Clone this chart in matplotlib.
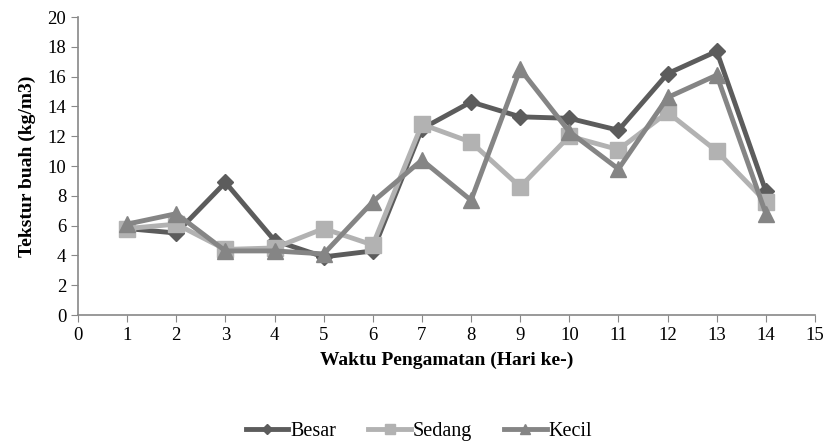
import matplotlib
matplotlib.use('Agg')
import matplotlib.pyplot as plt
import numpy as np

plt.rcParams['font.family'] = ['Liberation Serif', 'DejaVu Serif']

hari = [1, 2, 3, 4, 5, 6, 7, 8, 9, 10, 11, 12, 13, 14]
besar = [5.8, 5.5, 8.9, 5.0, 3.9, 4.3, 12.5, 14.3, 13.3, 13.2, 12.4, 16.2, 17.7, 8.3]
sedang = [5.8, 6.1, 4.4, 4.5, 5.8, 4.7, 12.8, 11.6, 8.6, 12.0, 11.1, 13.6, 11.0, 7.6]
kecil = [6.1, 6.8, 4.3, 4.3, 4.1, 7.6, 10.4, 7.7, 16.5, 12.3, 9.8, 14.6, 16.1, 6.8]

fig = plt.figure(figsize=(8.25, 4.44), dpi=100)
ax = fig.add_axes([78/825, 1-315/444, (815-78)/825, (315-17)/444])

ax.plot(hari, besar, color='#5c5c5c', marker='D', markersize=8, lw=3.5, label='Besar')
ax.plot(hari, sedang, color='#b2b2b2', marker='s', markersize=11, lw=3.5, label='Sedang')
ax.plot(hari, kecil, color='#858585', marker='^', markersize=12, lw=3.5, label='Kecil')

ax.set_xlim(0, 15)
ax.set_ylim(0, 20)
ax.set_xticks(np.arange(0, 16, 1))
ax.set_yticks(np.arange(0, 21, 2))
ax.tick_params(axis='both', direction='out', length=5, color='#888888', labelsize=13.5)
for s in ['top', 'right']:
	ax.spines[s].set_visible(False)
for s in ['left', 'bottom']:
	ax.spines[s].set_color('#888888')
	ax.spines[s].set_linewidth(1.2)

ax.set_xlabel('Waktu Pengamatan (Hari ke-)', fontsize=14, fontweight='bold', labelpad=6)
ax.set_ylabel('Tekstur buah (kg/m3)', fontsize=14, fontweight='bold', labelpad=8)

fig.legend(loc='lower center', bbox_to_anchor=(0.508, -0.035), ncol=3, frameon=False,
	fontsize=14.5, handlelength=2.1, handletextpad=0.1, columnspacing=1.6, markerscale=0.6)

fig.savefig('out.png')
